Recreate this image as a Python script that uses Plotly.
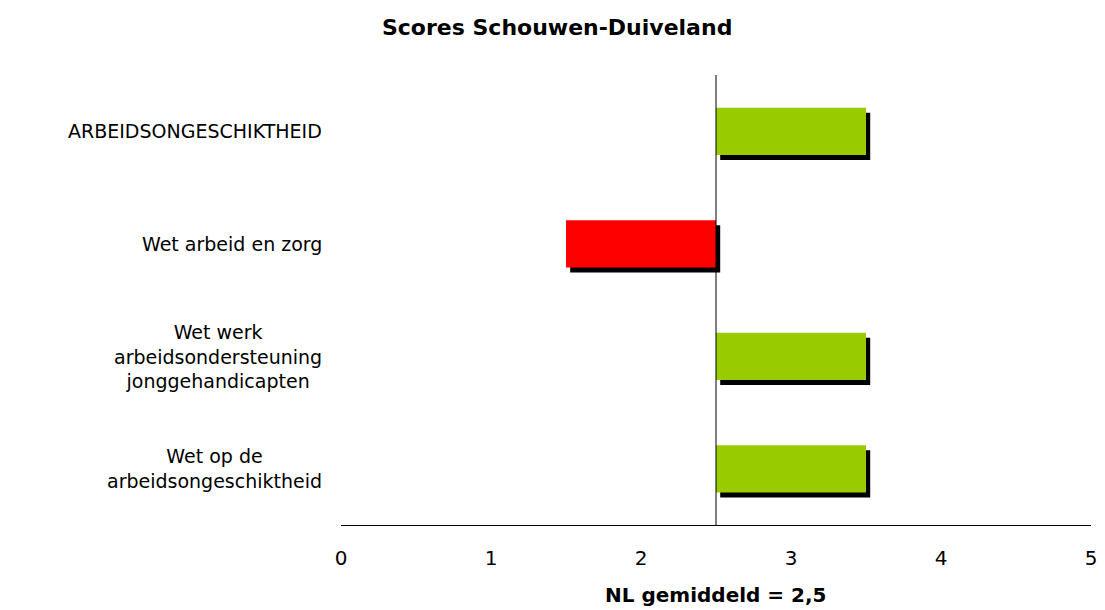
import plotly.graph_objects as go

# categories top to bottom
categories = ['ARBEIDSONGESCHIKTHEID', 'Wet arbeid en zorg',
              'Wet werk<br>arbeidsondersteuning<br>jonggehandicapten',
              'Wet op de<br>arbeidsongeschiktheid']
scores = [3.5, 1.5, 3.5, 3.5]
nl_avg = 2.5
x_title = 'NL gemiddeld = 2,5'
bar_colors = ['#99cc00' if s >= nl_avg else '#ff0000' for s in scores]

font = 'DejaVu Sans, Verdana, sans-serif'
bar_w = 0.42
dx = 0.028   # shadow shift along x (data units)
dy = 0.045   # shadow shift along category axis

fig = go.Figure()

# drop shadows
fig.add_trace(go.Bar(y=categories, x=[s - nl_avg for s in scores], base=nl_avg + dx,
                     orientation='h', width=bar_w, offset=-bar_w / 2 + dy,
                     marker=dict(color='black', line=dict(width=0)),
                     hoverinfo='skip', showlegend=False))
# bars
fig.add_trace(go.Bar(y=categories, x=[s - nl_avg for s in scores], base=nl_avg,
                     orientation='h', width=bar_w, offset=-bar_w / 2,
                     marker=dict(color=bar_colors, line=dict(width=0)),
                     showlegend=False))

# category labels, centred per line like the original
for c in categories:
    fig.add_annotation(x=-0.023, xref='paper', y=c, yref='y', text=c,
                       showarrow=False, xanchor='right', align='center',
                       font=dict(family=font, size=19, color='black'))

# x axis title
fig.add_annotation(x=0.5, xref='paper', y=-0.155, yref='paper', text='<b>' + x_title + '</b>',
                   showarrow=False, xanchor='center', yanchor='middle',
                   font=dict(family=font, size=20, color='black'))

fig.add_shape(type='line', x0=nl_avg, x1=nl_avg, xref='x', y0=0, y1=1, yref='paper',
              line=dict(color='black', width=1))

# the page body adds an 8px offset, margins are set with that in mind
fig.update_layout(
    width=1105, height=610,
    margin=dict(l=333, r=22, t=67, b=93),
    barmode='overlay',
    plot_bgcolor='white', paper_bgcolor='white',
    title=dict(text='<b>Scores Schouwen-Duiveland</b>', x=0.497, xanchor='center',
               y=0.969, yanchor='middle', font=dict(family=font, size=22, color='black')),
    xaxis=dict(range=[0, 5], dtick=1, showgrid=False, zeroline=False,
               showline=True, linecolor='black', linewidth=1, automargin=False,
               ticks='outside', ticklen=15, tickcolor='rgba(0,0,0,0)',
               ticklabeloverflow='allow',
               tickfont=dict(family=font, size=20, color='black')),
    yaxis=dict(autorange='reversed', showticklabels=False, showgrid=False,
               zeroline=False, showline=False, ticks=''),
)

fig.write_html('out.html')
